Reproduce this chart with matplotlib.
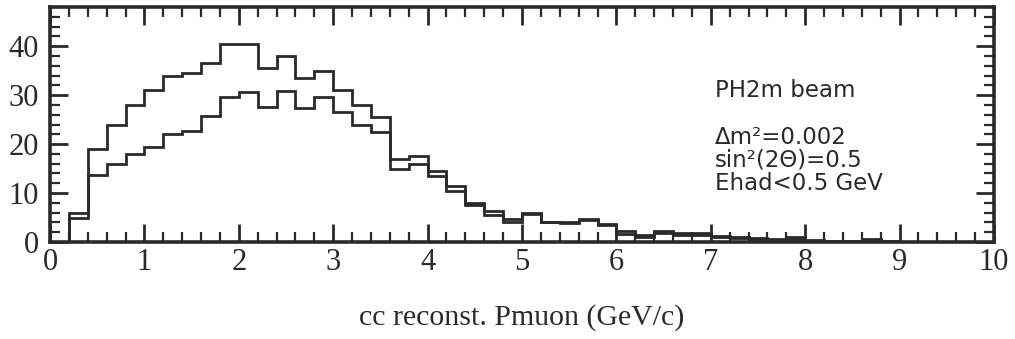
import numpy as np
from matplotlib import pyplot as plt
from matplotlib.ticker import MultipleLocator

# bin edges, 0.2 GeV/c wide
edges = np.round(np.arange(0, 10.01, 0.2), 1)

# upper histogram (no oscillation)
no_osc = [0, 6, 19, 24, 28, 31, 34, 34.5, 36.5, 40.5,
          40.5, 35.5, 38, 33.5, 35, 31, 28, 25.5, 17, 17.5,
          14.5, 11.5, 8, 6.3, 4.8, 6, 4.1, 4, 4.6, 3.7,
          2.2, 1.4, 2.2, 1.9, 1.9, 1.2, 1.1, 0.8, 0.6, 1.0,
          0.5, 0.3, 0.3, 0.6, 0.3, 0.1, 0, 0, 0, 0]

# lower histogram (with oscillation)
osc = [0, 5, 13.7, 16, 18, 19.5, 22, 22.7, 25.7, 29.6,
       30.6, 27.6, 30.8, 27.4, 29.6, 26.5, 24, 22.4, 15, 16,
       13.4, 10.4, 7.5, 5.6, 4.1, 5.8, 4, 3.9, 4.4, 3.5,
       1.7, 1.0, 1.8, 1.5, 1.5, 1.0, 0.8, 0.6, 0.4, 0.7,
       0.3, 0.2, 0.2, 0.5, 0.2, 0, 0, 0, 0, 0]

notes = ["PH2m beam", "", "\u0394m\u00b2=0.002", "sin\u00b2(2\u0398)=0.5", "Ehad<0.5 GeV"]

ink = "#2a2a2a"

fig = plt.figure(figsize=(10.15, 3.39), dpi=100)
ax = fig.add_axes([50 / 1015, 1 - 242 / 339, 944 / 1015, 235 / 339])

ax.stairs(no_osc, edges, color=ink, lw=2.0, baseline=None)
ax.stairs(osc, edges, color=ink, lw=2.0, baseline=None)

ax.set_xlim(0, 10)
ax.set_ylim(0, 48)

ax.xaxis.set_major_locator(MultipleLocator(1))
ax.xaxis.set_minor_locator(MultipleLocator(0.2))
ax.yaxis.set_major_locator(MultipleLocator(10))
ax.yaxis.set_minor_locator(MultipleLocator(2))
ax.set_yticks([0, 10, 20, 30, 40])

for s in ax.spines.values():
    s.set_linewidth(2.6)
    s.set_color(ink)

ax.tick_params(which="both", direction="in", top=True, right=True, color=ink)
ax.tick_params(which="major", length=13, width=2.0)
ax.tick_params(which="minor", length=7, width=1.6)
ax.tick_params(axis="y", which="major", pad=8)
ax.tick_params(axis="x", which="major", pad=4)

for lab in ax.get_xticklabels() + ax.get_yticklabels():
    lab.set_family("Liberation Serif")
    lab.set_fontsize(22)
    lab.set_color(ink)

ax.set_xlabel("cc reconst. Pmuon (GeV/c)", family="Liberation Serif",
              fontsize=21.5, color=ink, labelpad=20)

y0 = 0.617
for i, line in enumerate(notes):
    ax.text(0.704, y0 - i * 0.099, line, transform=ax.transAxes,
            fontsize=16.5, family="DejaVu Sans", color=ink, va="baseline")

fig.savefig("out.png", dpi=100)
